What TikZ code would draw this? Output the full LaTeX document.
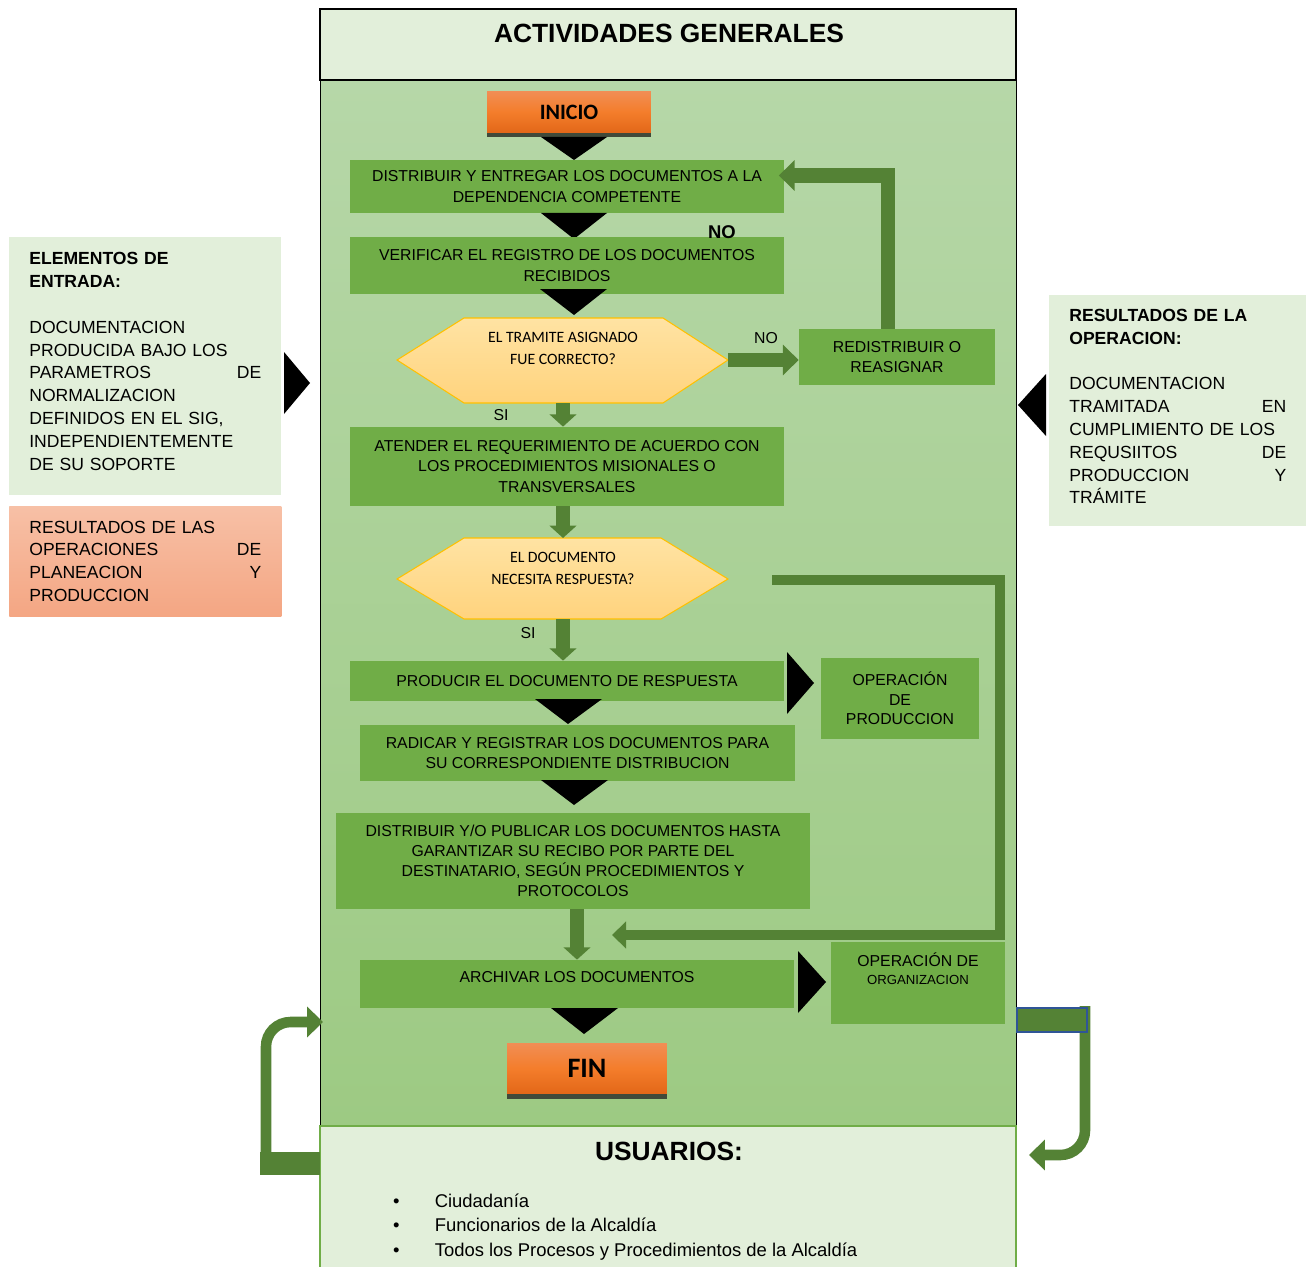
\documentclass[tikz,border=0pt]{standalone}
\usepackage{fontspec}
\setmainfont{Liberation Sans}
\newfontfamily\calibri{Carlito}
\usetikzlibrary{
	positioning,
	calc,
	arrows.meta
}
\definecolor{PaleGreen}{RGB}{226,239,218}
\definecolor{AreaTop}{RGB}{182,215,168}
\definecolor{AreaBottom}{RGB}{157,202,131}
\definecolor{StepGreen}{RGB}{112,173,71}
\definecolor{ArrowGreen}{RGB}{84,130,53}
\definecolor{HexTop}{RGB}{255,227,163}
\definecolor{HexBottom}{RGB}{255,211,125}
\definecolor{HexLine}{RGB}{255,192,0}
\definecolor{OrangeTop}{RGB}{241,142,85}
\definecolor{OrangeMid}{RGB}{244,125,43}
\definecolor{OrangeBottom}{RGB}{226,103,24}
\definecolor{BarGrey}{RGB}{64,74,58}
\definecolor{SalmonTop}{RGB}{247,192,166}
\definecolor{SalmonBottom}{RGB}{244,166,131}
\definecolor{FrameBlue}{RGB}{47,85,151}

\newcommand{\jfill}{\hskip 0pt plus 1filll\relax}

\tikzset{
	stepbox/.style={fill=StepGreen, inner sep=2pt, align=center, font=\fontsize{9}{11.5}\selectfont},
	sidebox/.style={fill=PaleGreen, inner xsep=0.4cm, inner ysep=0pt, align=left, anchor=north west, font=\fontsize{10}{13}\selectfont},
	startbox/.style={top color=OrangeTop, bottom color=OrangeBottom, middle color=OrangeMid},
	hexshape/.style={draw=HexLine, line width=0.6pt, top color=HexTop, bottom color=HexBottom},
	hextext/.style={font=\calibri\fontsize{9}{12.5}\selectfont, align=center},
	chev/.style={fill=black},
	flowarrow/.style={draw=ArrowGreen, line width=7.5pt, -{Triangle[length=7pt,width=15pt]}},
	bigarrow/.style={draw=ArrowGreen, line width=8pt, -{Triangle[length=9pt,width=17pt]}},
	thinarrow/.style={draw=ArrowGreen, line width=5.5pt, -{Triangle[length=8pt,width=15pt]}},
	bentarrow/.style={draw=ArrowGreen, line width=6pt, rounded corners=14pt, -{Triangle[length=9pt,width=17pt]}},
	tag/.style={font=\fontsize{9}{11}\selectfont, inner sep=1pt},
	useritem/.style={anchor=base west, font=\fontsize{10.5}{13}\selectfont}
}

\begin{document}
\begin{tikzpicture}[x=0.02cm, y=-0.02cm]

	\useasboundingbox (0,0) rectangle (1308,1267);

	% frame of the activities
	\fill[PaleGreen] (320,9) rectangle (1016,80);
	\shade[top color=AreaTop, bottom color=AreaBottom] (320,80) rectangle (1016,1126);
	\draw[line width=0.5pt] (320,80) -- (320,1126) (1016,80) -- (1016,1126);
	\draw[line width=0.9pt] (320,80) -- (320,9) -- (1016,9) -- (1016,80) -- cycle;
	\draw[fill=PaleGreen, draw=StepGreen, line width=0.8pt] (320,1126) rectangle (1016,1290);

	\node[font=\bfseries\fontsize{15}{18}\selectfont] (title) at (669,33) {ACTIVIDADES GENERALES};

	% flow
	\node[startbox, minimum width=3.28cm, minimum height=0.84cm, font=\calibri\bfseries\fontsize{12.5}{14}\selectfont] (inicio) at (569,112) {INICIO};
	\fill[BarGrey] (inicio.south west) rectangle ($(inicio.south east)+(0,4)$);
	\fill[chev] (541,137) -- (607,137) -- (574,160) -- cycle;

	\node[stepbox, minimum width=8.7cm, minimum height=1.06cm] (dist) at (567,186.5)
		{DISTRIBUIR Y ENTREGAR LOS DOCUMENTOS A LA\\DEPENDENCIA COMPETENTE};
	\fill[chev] (541,213) -- (607,213) -- (574,239) -- cycle;

	\node[stepbox, minimum width=8.7cm, minimum height=1.14cm] (verif) at (567,265.5)
		{VERIFICAR EL REGISTRO DE LOS DOCUMENTOS\\RECIBIDOS};
	\fill[chev] (540,289) -- (607,289) -- (574,315) -- cycle;

	\draw[hexshape] (397,360) -- (464,318) -- (663,318) -- (728,360) -- (663,403) -- (464,403) -- cycle;
	\coordinate (q1e) at (728,360);
	\coordinate (q1s) at (563,403);
	\node[hextext] (q1) at (563,348) {EL TRAMITE ASIGNADO\\FUE CORRECTO?};

	\node[stepbox, minimum width=3.92cm, minimum height=1.12cm, font=\fontsize{9}{11}\selectfont] (redis) at (897,357)
		{REDISTRIBUIR O\\REASIGNAR};
	\draw[bigarrow] (q1e) -- (q1e -| redis.west);
	\node[tag] (no1) at (766,338) {NO};
	\draw[bigarrow] ($(redis.north)+(-9,0)$) |- ($(dist.east)+(-6,-11)$);
	\node[tag, font=\bfseries\fontsize{10.5}{12}\selectfont] (no2) at (722,232) {NO};

	\node[tag] (si1) at (501,415) {SI};
	\node[stepbox, minimum width=8.7cm, minimum height=1.58cm] (atend) at (567,466.5)
		{ATENDER EL REQUERIMIENTO DE ACUERDO CON\\LOS PROCEDIMIENTOS MISIONALES O\\TRANSVERSALES};
	\draw[flowarrow] (q1s) -- (q1s |- atend.north);

	\draw[hexshape] (397,579) -- (464,538) -- (661,538) -- (728,579) -- (661,619) -- (464,619) -- cycle;
	\coordinate (q2n) at (563,538);
	\coordinate (q2s) at (563,619);
	\coordinate (q2out) at (772,580);
	\node[hextext] (q2) at (563,568) {EL DOCUMENTO\\NECESITA RESPUESTA?};
	\draw[flowarrow] (q2n |- atend.south) -- (q2n);

	\node[tag] (si2) at (528,633) {SI};
	\node[stepbox, minimum width=8.7cm, minimum height=0.8cm] (resp) at (567,681)
		{PRODUCIR EL DOCUMENTO DE RESPUESTA};
	\draw[flowarrow] (q2s) -- (q2s |- resp.north);
	\fill[chev] (787,652) -- (814,683) -- (787,714) -- cycle;
	\node[stepbox, minimum width=3.16cm, minimum height=1.62cm, font=\fontsize{9}{11}\selectfont] (opprod) at (900,698.5)
		{OPERACIÓN\\DE\\PRODUCCION};
	\fill[chev] (535,699) -- (602,699) -- (568,724) -- cycle;

	\node[stepbox, minimum width=8.7cm, minimum height=1.12cm] (radic) at (577.5,753)
		{RADICAR Y REGISTRAR LOS DOCUMENTOS PARA\\SU CORRESPONDIENTE DISTRIBUCION};
	\fill[chev] (541,780) -- (608,780) -- (574,805) -- cycle;

	\node[stepbox, minimum width=9.5cm, minimum height=1.92cm] (publ) at (573,861)
		{DISTRIBUIR Y/O PUBLICAR LOS DOCUMENTOS HASTA\\GARANTIZAR SU RECIBO POR PARTE DEL\\DESTINATARIO, SEGÚN PROCEDIMIENTOS Y\\PROTOCOLOS};

	\node[stepbox, minimum width=8.7cm, minimum height=0.96cm] (archiv) at (577,984)
		{ARCHIVAR LOS DOCUMENTOS\\[-3pt]\mbox{}};
	\draw[flowarrow] (archiv.north |- publ.south) -- (archiv.north);
	\coordinate (backin) at (612,935);
	\draw[thinarrow] (q2out) -- ++(228,0) |- (backin);
	\fill[chev] (798,951) -- (826,982) -- (798,1013) -- cycle;
	\node[stepbox, minimum width=3.5cm, minimum height=1.64cm, font=\fontsize{9}{10}\selectfont] (oporg) at (918,982.5)
		{OPERACIÓN DE\\{\fontsize{7.5}{9}\selectfont ORGANIZACION}\\[6pt]\mbox{}};
	\fill[chev] (551,1008) -- (618,1008) -- (584,1034) -- cycle;

	\node[startbox, minimum width=3.2cm, minimum height=1.02cm, font=\calibri\bfseries\fontsize{16}{18}\selectfont] (fin) at (587,1068.5) {FIN};
	\fill[BarGrey] (fin.south west) rectangle ($(fin.south east)+(0,5)$);

	% inputs and outputs
	\node[sidebox, text width=4.64cm, minimum height=5.16cm] (entrada) at (9,237)
		{{\bfseries ELEMENTOS DE\\ENTRADA:}\\[13pt]
		DOCUMENTACION\\PRODUCIDA BAJO LOS\\PARAMETROS\jfill DE\\NORMALIZACION\\DEFINIDOS EN EL SIG,\\INDEPENDIENTEMENTE\\DE SU SOPORTE\\[-7.4pt]\mbox{}};
	\fill[chev] (284,352) -- (310,383) -- (284,414) -- cycle;

	\node[sidebox, top color=SalmonTop, bottom color=SalmonBottom, text width=4.64cm, minimum height=2.2cm] (planea) at (9,506)
		{RESULTADOS DE LAS\\OPERACIONES\jfill DE\\PLANEACION\jfill Y\\PRODUCCION};

	\node[sidebox, text width=4.34cm, minimum height=4.62cm] (resop) at (1049,295)
		{{\bfseries RESULTADOS DE LA\\OPERACION:}\\[13pt]
		DOCUMENTACION\\TRAMITADA\jfill EN\\CUMPLIMIENTO DE LOS\\REQUSIITOS\jfill DE\\PRODUCCION\jfill Y\\TRÁMITE\\[-8pt]\mbox{}};
	\fill[chev] (1046,374) -- (1018,405) -- (1046,436) -- cycle;

	% users
	\node[font=\bfseries\fontsize{15}{18}\selectfont] (usr) at (669,1151) {USUARIOS:};
	\node[useritem] (u1) at (387,1207) {\textbullet\hspace{20pt}Ciudadanía};
	\node[useritem] (u2) at (387,1231) {\textbullet\hspace{20pt}Funcionarios de la Alcaldía};
	\node[useritem] (u3) at (387,1256) {\textbullet\hspace{20pt}Todos los Procesos y Procedimientos de la Alcaldía};

	% feedback arrows
	\coordinate (usrleft) at (320,1163);
	\coordinate (arealeft) at (323,1022);
	\fill[ArrowGreen] (260,1152) rectangle (usrleft |- 0,1175);
	\draw[bentarrow] (266,1170) -- (266,1022) -- (arealeft);

	\coordinate (arearight) at (1017,1020);
	\coordinate (usrright) at (1029,1155);
	\draw[bentarrow] (1085,1006) -- (1085,1155) -- (usrright);
	\draw[fill=ArrowGreen, draw=FrameBlue, line width=1.2pt] (arearight |- 0,1008) rectangle (1087,1032);

\end{tikzpicture}
\end{document}
